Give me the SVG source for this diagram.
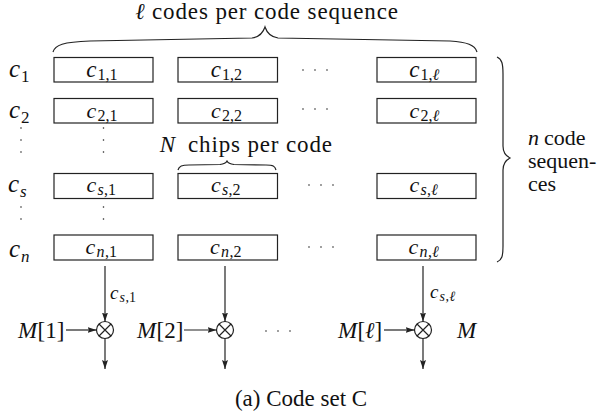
<svg xmlns="http://www.w3.org/2000/svg" width="599" height="412" viewBox="0 0 599 412">
  <style>
    .box { fill: #fff; stroke: #222; stroke-width: 1.2; }
    .wire { stroke: #222; stroke-width: 1.2; fill: none; }
    .brace { stroke: #222; stroke-width: 1.2; fill: none; }
    .dots { stroke: #222; stroke-width: 1.6; stroke-linecap: round; stroke-dasharray: 0 12; fill: none; }
    .mult { fill: #fff; stroke: #222; stroke-width: 1.2; }
  </style>
  <defs>
    <marker id="arrow" markerWidth="10" markerHeight="8" refX="9" refY="3" orient="auto" markerUnits="userSpaceOnUse">
      <path d="M0,0 L9,3 L0,6 L1.5,3 z" fill="#222"/>
    </marker>
  </defs>

  <rect width="599" height="412" fill="#fff"/>

  <g font-family="Liberation Serif" fill="#111" text-anchor="middle">

  <!-- headline with brace over the code columns -->
  <text x="140" y="19" font-size="23" font-style="italic">ℓ</text>
  <text x="275" y="19" font-size="23" textLength="246" lengthAdjust="spacing">codes per code sequence</text>
  <path class="brace" d="M53,52 C55,45 63,42 90,41 L252,38 C259,37 263,33 265,27 C267,33 271,37 278,38 L450,41 C467,42 475,45 477,52"/>

  <!-- row labels -->
  <g id="row-labels">
    <text x="14.5" y="77" font-size="25" font-style="italic">c</text><text x="25.3" y="82" font-size="17">1</text>
    <text x="14.5" y="118" font-size="25" font-style="italic">c</text><text x="25.3" y="123" font-size="17">2</text>
    <text x="13.5" y="192" font-size="25" font-style="italic">c</text><text x="23.3" y="197" font-size="17" font-style="italic">s</text>
    <text x="14.5" y="257" font-size="25" font-style="italic">c</text><text x="25.3" y="262" font-size="17" font-style="italic">n</text>
  </g>

  <!-- code cells, row 1 (subscripts set at 23 and scaled) -->
  <g id="c11"><rect class="box" x="54" y="57.5" width="99" height="24.5"/>
    <text x="91.4" y="77" font-size="23" font-style="italic">c</text><text transform="translate(107.5,80) scale(0.7)" font-size="23">1,1</text></g>
  <g id="c12"><rect class="box" x="178" y="57.5" width="99.5" height="24.5"/>
    <text x="215.9" y="77" font-size="23" font-style="italic">c</text><text transform="translate(232,80) scale(0.7)" font-size="23">1,2</text></g>
  <g id="c1l"><rect class="box" x="377" y="57.5" width="99" height="24.5"/>
    <text x="414.4" y="77" font-size="23" font-style="italic">c</text><text transform="translate(426.5,80) scale(0.7)" font-size="23">1,</text><text transform="translate(435.8,80) scale(0.7)" font-size="23" font-style="italic">ℓ</text></g>

  <!-- code cells, row 2 -->
  <g id="c21"><rect class="box" x="54" y="98.5" width="99" height="24.5"/>
    <text x="91.4" y="118" font-size="22" font-style="italic">c</text><text x="107.5" y="121" font-size="16">2,1</text></g>
  <g id="c22"><rect class="box" x="178" y="98.5" width="99.5" height="24.5"/>
    <text x="215.9" y="118" font-size="22" font-style="italic">c</text><text x="232" y="121" font-size="16">2,2</text></g>
  <g id="c2l"><rect class="box" x="377" y="98.5" width="99" height="24.5"/>
    <text x="414.4" y="118" font-size="22" font-style="italic">c</text><text x="426.5" y="121" font-size="16">2,</text><text x="435.8" y="121" font-size="16" font-style="italic">ℓ</text></g>

  <!-- code cells, row s -->
  <g id="cs1"><rect class="box" x="54" y="173.5" width="99" height="25"/>
    <text x="91.4" y="192" font-size="22" font-style="italic">c</text><text x="100.6" y="195" font-size="16" font-style="italic">s</text><text x="110" y="195" font-size="16">,1</text></g>
  <g id="cs2"><rect class="box" x="178" y="173.5" width="99.5" height="25"/>
    <text x="215.9" y="192" font-size="22" font-style="italic">c</text><text x="225.1" y="195" font-size="16" font-style="italic">s</text><text x="234.5" y="195" font-size="16">,2</text></g>
  <g id="csl"><rect class="box" x="377" y="173.5" width="99" height="25"/>
    <text x="414.4" y="192" font-size="22" font-style="italic">c</text><text x="423.6" y="195" font-size="16" font-style="italic">s</text><text x="429" y="195" font-size="16">,</text><text x="434.3" y="195" font-size="16" font-style="italic">ℓ</text></g>

  <!-- code cells, row n -->
  <g id="cn1"><rect class="box" x="54" y="235" width="99" height="25"/>
    <text x="90.4" y="254" font-size="22" font-style="italic">c</text><text x="100.5" y="257" font-size="16" font-style="italic">n</text><text x="111" y="257" font-size="16">,1</text></g>
  <g id="cn2"><rect class="box" x="178" y="235" width="99.5" height="25"/>
    <text x="214.9" y="254" font-size="22" font-style="italic">c</text><text x="225" y="257" font-size="16" font-style="italic">n</text><text x="235.5" y="257" font-size="16">,2</text></g>
  <g id="cnl"><rect class="box" x="377" y="235" width="99" height="25"/>
    <text x="413.4" y="254" font-size="22" font-style="italic">c</text><text x="423.5" y="257" font-size="16" font-style="italic">n</text><text x="430" y="257" font-size="16">,</text><text x="435.3" y="257" font-size="16" font-style="italic">ℓ</text></g>

  <!-- ellipses between columns and rows -->
  <g id="ellipses">
    <line class="dots" x1="303" y1="70" x2="339" y2="70"/>
    <line class="dots" x1="303" y1="109" x2="339" y2="109"/>
    <line class="dots" x1="309" y1="185" x2="345" y2="185"/>
    <line class="dots" x1="309" y1="247" x2="345" y2="247"/>
    <line class="dots" x1="266" y1="331" x2="302" y2="331"/>
    <line class="dots" x1="21" y1="128" x2="21" y2="164"/>
    <line class="dots" x1="21" y1="207" x2="21" y2="231"/>
    <line class="dots" x1="103.5" y1="128" x2="103.5" y2="164"/>
    <line class="dots" x1="103.5" y1="207" x2="103.5" y2="231"/>
  </g>

  <!-- chip brace over one cell -->
  <text x="167.3" y="152" font-size="23" font-style="italic">N</text>
  <text x="260" y="152" font-size="23" textLength="144" lengthAdjust="spacing">chips per code</text>
  <path class="brace" d="M178,170 C179,166 182,165 189,165 L220,164.5 C224,164 226,163 227,161 C228,163 230,164 234,164.5 L266,165 C273,165 275,166 276,170"/>

  <!-- brace over the rows -->
  <path class="brace" d="M497,57 C502,59 503,64 503,74 L503,146 C503,153 506,156 510,158 C506,160 503,163 503,170 L503,246 C503,256 502,260 497,262"/>
  <text x="533.5" y="145" font-size="22" font-style="italic">n</text>
  <text x="564.8" y="145" font-size="22">code</text>
  <text x="562.2" y="168" font-size="22">sequen-</text>
  <text x="542" y="191" font-size="22">ces</text>

  <!-- multipliers -->
  <g id="mult1">
    <circle class="mult" cx="105" cy="330" r="8.5"/>
    <path class="wire" d="M99,324 L111,336 M111,324 L99,336"/>
  </g>
  <g id="mult2">
    <circle class="mult" cx="225" cy="330" r="8.5"/>
    <path class="wire" d="M219,324 L231,336 M231,324 L219,336"/>
  </g>
  <g id="multl">
    <circle class="mult" cx="423" cy="330" r="8.5"/>
    <path class="wire" d="M417,324 L429,336 M429,324 L417,336"/>
  </g>

  <!-- connectors -->
  <g id="connectors">
    <line class="wire" x1="105" y1="266" x2="105" y2="321.5" marker-end="url(#arrow)"/>
    <line class="wire" x1="225" y1="266" x2="225" y2="321.5" marker-end="url(#arrow)"/>
    <line class="wire" x1="423" y1="266" x2="423" y2="321.5" marker-end="url(#arrow)"/>
    <line class="wire" x1="66" y1="330" x2="96.5" y2="330" marker-end="url(#arrow)"/>
    <line class="wire" x1="184" y1="330" x2="216.5" y2="330" marker-end="url(#arrow)"/>
    <line class="wire" x1="384" y1="330" x2="414.5" y2="330" marker-end="url(#arrow)"/>
    <line class="wire" x1="105" y1="338.5" x2="105" y2="369" marker-end="url(#arrow)"/>
    <line class="wire" x1="225" y1="338.5" x2="225" y2="369" marker-end="url(#arrow)"/>
    <line class="wire" x1="423" y1="338.5" x2="423" y2="369" marker-end="url(#arrow)"/>
  </g>

  <!-- connector labels -->
  <text x="114.2" y="299" font-size="19" font-style="italic">c</text><text x="122.2" y="302" font-size="14" font-style="italic">s</text><text x="130.75" y="302" font-size="14">,1</text>
  <text x="434.2" y="298" font-size="19" font-style="italic">c</text><text x="442.2" y="301" font-size="14" font-style="italic">s</text><text x="447.25" y="301" font-size="14">,</text><text x="452.4" y="301" font-size="14" font-style="italic">ℓ</text>

  <!-- message inputs -->
  <text x="27.6" y="338" font-size="23" font-style="italic">M</text><text x="50.9" y="338" font-size="23">[1]</text>
  <text x="146.6" y="338" font-size="23" font-style="italic">M</text><text x="169.9" y="338" font-size="23">[2]</text>
  <text x="347.6" y="338" font-size="23" font-style="italic">M</text><text x="361.3" y="338" font-size="23">[</text><text x="369.8" y="338" font-size="23" font-style="italic">ℓ</text><text x="378.3" y="338" font-size="23">]</text>
  <text x="466.6" y="338" font-size="23" font-style="italic">M</text>

  <!-- caption -->
  <text font-size="23" x="301" y="406">(a) Code set C</text>
  </g>
</svg>
